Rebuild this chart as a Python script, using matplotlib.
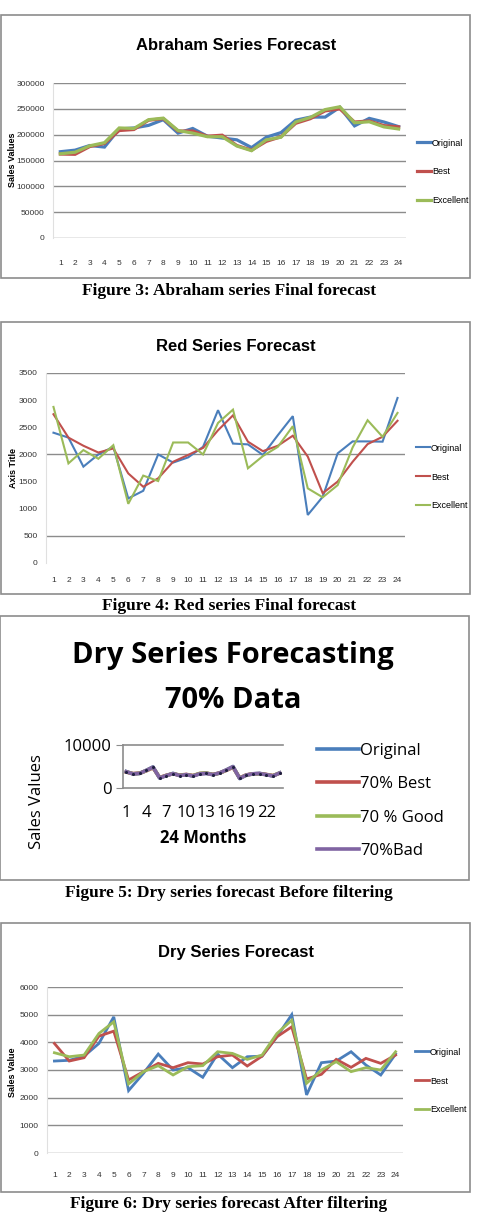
import matplotlib
matplotlib.use("Agg")
import matplotlib.pyplot as plt
from matplotlib.patches import Rectangle

W, H = 481, 1218

months = list(range(1, 25))
legend_labels = ["Original", "Best", "Excellent"]

# Figure 3: Abraham series
abraham_original = [167000, 170000, 179000, 176000, 211000, 213000, 218000, 229000, 203000, 212000, 197000, 193500,
                    190000, 175000, 195000, 204000, 228000, 234000, 234000, 253000, 217000, 231500, 224500, 215500]
abraham_best = [162500, 162000, 177000, 183000, 208000, 210000, 228000, 231000, 207000, 207000, 197000, 199000,
                179000, 170000, 187000, 196000, 222000, 231000, 246000, 250000, 224500, 226500, 217500, 215000]
abraham_excellent = [163000, 166000, 178500, 184500, 213000, 212000, 229000, 232000, 208000, 203000, 196000, 196000,
                     178000, 169000, 190000, 195000, 224500, 233500, 248500, 254000, 223000, 225000, 215000, 211000]
abraham_ticks = [0, 50000, 100000, 150000, 200000, 250000, 300000]

# Figure 4: Red series
red_original = [2400, 2310, 1775, 2000, 2140, 1190, 1330, 2000, 1850, 1945, 2140, 2815,
                2200, 2185, 1990, 2355, 2705, 885, 1220, 2020, 2240, 2240, 2235, 3040]
red_best = [2740, 2310, 2160, 2035, 2110, 1650, 1405, 1560, 1865, 1990, 2120, 2445,
            2720, 2235, 2060, 2160, 2345, 1960, 1285, 1500, 1865, 2190, 2325, 2620]
red_excellent = [2875, 1835, 2080, 1920, 2170, 1090, 1610, 1510, 2220, 2220, 2000, 2580,
                 2825, 1745, 1970, 2140, 2520, 1375, 1210, 1435, 2130, 2630, 2325, 2765]
red_ticks = [0, 500, 1000, 1500, 2000, 2500, 3000, 3500]
red_grid = [500, 2000, 3500]

# Figure 5: Dry series 70% data
dry70_labels = ["Original", "70% Best", "70 % Good", "70%Bad"]
dry70_original = [3800, 3300, 3400, 4100, 4900, 2300, 2900, 3400, 2900, 3100, 2800, 3300,
                  3400, 3100, 3500, 4200, 5000, 2200, 3000, 3300, 3400, 3100, 2800, 3500]
dry70_best = [3700, 3350, 3450, 4000, 4700, 2450, 2950, 3300, 3000, 3150, 2900, 3350,
              3450, 3150, 3500, 4100, 4800, 2350, 3050, 3300, 3350, 3150, 2900, 3450]
dry70_good = [3750, 3300, 3400, 4050, 4800, 2400, 2900, 3350, 2950, 3100, 2850, 3400,
              3500, 3100, 3450, 4150, 4900, 2300, 3000, 3250, 3300, 3100, 2850, 3500]
dry70_bad = [3800, 3250, 3400, 4100, 4850, 2350, 2900, 3350, 2900, 3100, 2800, 3300,
             3400, 3100, 3500, 4200, 4950, 2250, 3000, 3300, 3350, 3100, 2800, 3500]
dry70_ticks = [0, 10000]
dry70_xticks = [1, 4, 7, 10, 13, 16, 19, 22]

# Figure 6: Dry series after filtering
dry_original = [3324, 3350, 3500, 3960, 4920, 2256, 2880, 3576, 3000, 3084, 2736, 3576,
                3084, 3480, 3500, 4200, 5000, 2100, 3264, 3324, 3660, 3180, 2820, 3576]
dry_best = [3960, 3324, 3444, 4224, 4404, 2640, 2940, 3240, 3084, 3264, 3216, 3480,
            3540, 3144, 3500, 4200, 4560, 2676, 2844, 3384, 3096, 3420, 3240, 3540]
dry_excellent = [3624, 3480, 3540, 4320, 4740, 2496, 2940, 3156, 2820, 3120, 3156, 3660,
                 3600, 3384, 3540, 4320, 4800, 2520, 3000, 3300, 2940, 3084, 3000, 3660]
dry_ticks = [0, 1000, 2000, 3000, 4000, 5000, 6000]

BLUE, RED, GREEN, PURPLE = "#4a7ebb", "#c0504d", "#9bbb59", "#8064a2"
NARROW = ["Liberation Sans", "DejaVu Sans"]
SERIF = ["Liberation Serif", "DejaVu Serif"]
CALIBRI = ["Open Sans", "DejaVu Sans"]

fig = plt.figure(figsize=(W / 100, H / 100), dpi=100)


def axes_px(x0, y0, x1, y1):
    return fig.add_axes([x0 / W, 1 - y1 / H, (x1 - x0) / W, (y1 - y0) / H])


def frame_px(x0, y0, x1, y1):
    fig.patches.append(Rectangle((x0 / W, 1 - y1 / H), (x1 - x0) / W, (y1 - y0) / H,
                                 transform=fig.transFigure, fill=False, ec="#8c8c8c", lw=1.2))


def text_px(x, y, s, **kw):
    fig.text(x / W, 1 - y / H, s, **kw)


def excel_chart(frame, plot, title, title_y, ylabel, ylabel_y, series, ticks, grid, leg_x, leg_y, lw, xpad):
    frame_px(*frame)
    text_px(236, title_y, title, ha="center", va="center", family=NARROW, weight="bold", size=12)
    ax = axes_px(*plot)
    for vals, c in zip(series, [BLUE, RED, GREEN]):
        ax.plot(months, vals, color=c, lw=lw, solid_joinstyle="miter")
    ax.set_xlim(0.5, 24.5)
    ax.set_ylim(ticks[0], ticks[-1])
    ax.set_xticks(months)
    ax.set_yticks(ticks)
    for g in grid:
        ax.axhline(g, color="#8c8c8c", lw=1, zorder=0)
    for s in ["top", "right", "bottom"]:
        ax.spines[s].set_visible(False)
    ax.spines["left"].set_color("#e0e0e0")
    ax.tick_params(length=0, labelsize=6, labelcolor="#333333")
    ax.tick_params(axis="x", pad=xpad)
    ax.tick_params(axis="y", pad=6)
    for t in ax.get_xticklabels() + ax.get_yticklabels():
        t.set_family(NARROW)
    text_px(13, ylabel_y, ylabel, rotation=90, ha="center", va="center", family=NARROW,
            weight="bold", size=6.5)
    ax.legend(legend_labels, loc="center left", bbox_to_anchor=(leg_x / W, 1 - leg_y / H),
              bbox_transform=fig.transFigure, frameon=False, borderpad=0, borderaxespad=0,
              handlelength=1.6, handletextpad=0.05, labelspacing=2.2,
              prop={"family": NARROW, "size": 6.5})
    return ax


# Figure 3
excel_chart((1, 15, 470, 278), (53, 83, 406, 238), "Abraham Series Forecast", 46, "Sales Values", 160,
            [abraham_original, abraham_best, abraham_excellent], abraham_ticks, abraham_ticks,
            417, 172, 2.3, 16)
text_px(229, 291, "Figure 3: Abraham series Final forecast", ha="center", va="center",
        family=SERIF, weight="bold", size=12.5)

# Figure 4
excel_chart((1, 322, 470, 594), (46, 373, 405, 563), "Red Series Forecast", 347, "Axis Title", 468,
            [red_original, red_best, red_excellent], red_ticks, red_grid,
            416, 477, 1.5, 10)
text_px(229, 606, "Figure 4: Red series Final forecast", ha="center", va="center",
        family=SERIF, weight="bold", size=12.5)

# Figure 5
frame_px(0, 616, 469, 880)
text_px(233, 656, "Dry Series Forecasting", ha="center", va="center", family=CALIBRI, weight="bold", size=21)
text_px(233, 700, "70% Data", ha="center", va="center", family=CALIBRI, weight="bold", size=21)
ax3 = axes_px(123, 745, 283, 788)
handles = []
for vals, c in zip([dry70_original, dry70_best, dry70_good, dry70_bad], [BLUE, RED, GREEN, PURPLE]):
    handles += ax3.plot(months, vals, color=c, lw=2.6)
ax3.plot(months, dry70_bad, ls="none", marker="o", ms=1.2, color="#1f1f3f")
ax3.set_xlim(0.5, 24.5)
ax3.set_ylim(0, 10000)
ax3.set_yticks(dry70_ticks)
ax3.set_xticks(dry70_xticks)
ax3.set_xticklabels([str(v) for v in dry70_xticks])
ax3.axhline(10000, color="#8c8c8c", lw=1.2, clip_on=False)
for s in ["top", "right"]:
    ax3.spines[s].set_visible(False)
for s in ["left", "bottom"]:
    ax3.spines[s].set_color("#8c8c8c")
    ax3.spines[s].set_linewidth(1.2)
ax3.tick_params(axis="y", length=5, color="#8c8c8c", labelsize=12, pad=3)
ax3.tick_params(axis="x", length=0, labelsize=12, pad=12)
for t in ax3.get_xticklabels() + ax3.get_yticklabels():
    t.set_family(CALIBRI)
ax3.set_xlabel("24 Months", family=CALIBRI, weight="bold", size=12, labelpad=6)
text_px(37, 802, "Sales Values", rotation=90, ha="center", va="center", family=CALIBRI, size=12)
ax3.legend(handles=handles, labels=dry70_labels, loc="center left",
           bbox_to_anchor=(317 / W, 1 - 801 / H), bbox_transform=fig.transFigure,
           frameon=False, borderpad=0, borderaxespad=0, handlelength=2.5, handletextpad=0.1,
           labelspacing=1.05, prop={"family": CALIBRI, "size": 12})
text_px(229, 893, "Figure 5: Dry series forecast Before filtering", ha="center", va="center",
        family=SERIF, weight="bold", size=12.5)

# Figure 6
excel_chart((1, 923, 470, 1192), (47, 987, 403, 1153), "Dry Series Forecast", 953, "Sales Value", 1072,
            [dry_original, dry_best, dry_excellent], dry_ticks, dry_ticks,
            415, 1081, 2.0, 14)
text_px(229, 1204, "Figure 6: Dry series forecast After filtering", ha="center", va="center",
        family=SERIF, weight="bold", size=12.5)

fig.savefig("out.png", dpi=100)
